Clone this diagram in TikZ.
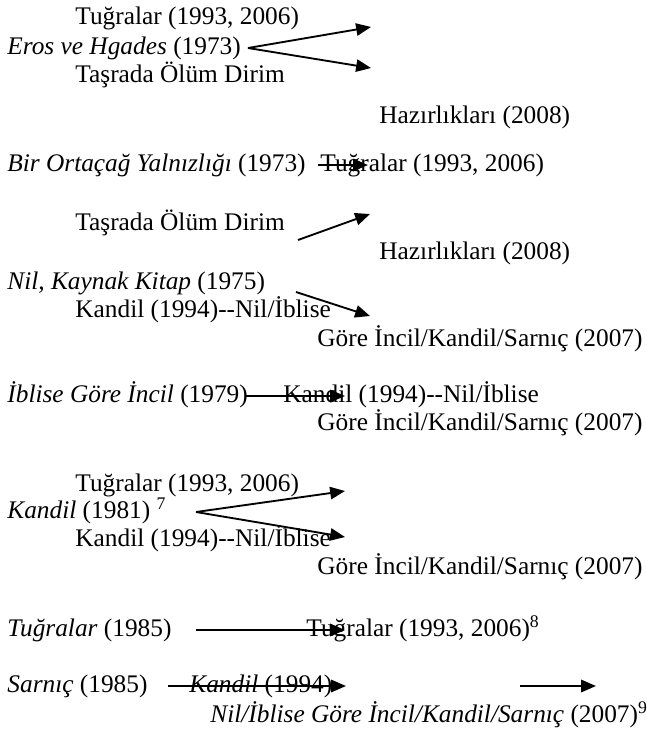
\documentclass[tikz,border=0pt]{standalone}
\usepackage{fontspec}
\setmainfont{Liberation Serif}
\usetikzlibrary{arrows.meta}

\begin{document}
\begin{tikzpicture}[x=0.4854pt, y=-0.4854pt,
    every node/.style={anchor=west, inner sep=0pt, text height=8.4pt, text depth=2.2pt,
      font=\fontsize{12.3pt}{14pt}\selectfont},
    arr/.style={-{Triangle[length=7.2pt, width=6pt]}, line width=0.9pt}]

    \useasboundingbox (0,0) rectangle (646,733);

    \node (a) at (75, 18) {Tuğralar (1993, 2006)};
    \node (b) at (7, 48) {\textit{Eros ve Hgades} (1973)};
    \node (c) at (75, 76) {Taşrada Ölüm Dirim};
    \node (d) at (379, 117) {Hazırlıkları (2008)};
    \node (e) at (7, 165) {\textit{Bir Ortaçağ Yalnızlığı} (1973)};
    \node (f) at (320, 165) {Tuğralar (1993, 2006)};
    \node (g) at (75, 224) {Taşrada Ölüm Dirim};
    \node (h) at (379, 253) {Hazırlıkları (2008)};
    \node (i) at (7, 283) {\textit{Nil, Kaynak Kitap} (1975)};
    \node (j) at (75, 311) {Kandil (1994)-{}-Nil/İblise};
    \node (k) at (317, 340) {Göre İncil/Kandil/Sarnıç (2007)};
    \node (l) at (7, 396) {\textit{İblise Göre İncil} (1979)};
    \node (m) at (283, 396) {Kandil (1994)-{}-Nil/İblise};
    \node (n) at (317, 424) {Göre İncil/Kandil/Sarnıç (2007)};
    \node (o) at (75, 485) {Tuğralar (1993, 2006)};
    \node (p) at (7, 512) {\textit{Kandil} (1981) \textsuperscript{7}};
    \node (q) at (75, 540) {Kandil (1994)-{}-Nil/İblise};
    \node (r) at (317, 568) {Göre İncil/Kandil/Sarnıç (2007)};
    \node (s) at (7, 630) {\textit{Tuğralar} (1985)};
    \node (t) at (306, 630) {Tuğralar (1993, 2006)\textsuperscript{8}};
    \node (u) at (7, 686) {\textit{Sarnıç} (1985)};
    \node (v) at (189, 686) {\textit{Kandil} (1994)};
    \node (w) at (210, 716) {\textit{Nil/İblise Göre İncil/Kandil/Sarnıç} (2007)\textsuperscript{9}};

    \coordinate (b1) at (248, 48);
    \coordinate (b2) at (371, 27);
    \coordinate (b3) at (371, 68);
    \coordinate (e1) at (318, 165);
    \coordinate (e2) at (368, 165);
    \coordinate (g1) at (298, 240);
    \coordinate (g2) at (370, 214);
    \coordinate (i1) at (296, 292);
    \coordinate (i2) at (370, 316);
    \coordinate (l1) at (246, 396);
    \coordinate (l2) at (345, 396);
    \coordinate (p1) at (196, 512);
    \coordinate (p2) at (345, 491);
    \coordinate (p3) at (345, 537);
    \coordinate (s1) at (196, 630);
    \coordinate (s2) at (345, 630);
    \coordinate (u1) at (168, 686);
    \coordinate (u2) at (346, 686);
    \coordinate (u3) at (520, 686);
    \coordinate (u4) at (596, 686);

    \draw [arr] (b1) to (b2);
    \draw [arr] (b1) to (b3);
    \draw [arr] (e1) to (e2);
    \draw [arr] (g1) to (g2);
    \draw [arr] (i1) to (i2);
    \draw [arr] (l1) to (l2);
    \draw [arr] (p1) to (p2);
    \draw [arr] (p1) to (p3);
    \draw [arr] (s1) to (s2);
    \draw [arr] (u1) to (u2);
    \draw [arr] (u3) to (u4);

  \end{tikzpicture}
\end{document}
